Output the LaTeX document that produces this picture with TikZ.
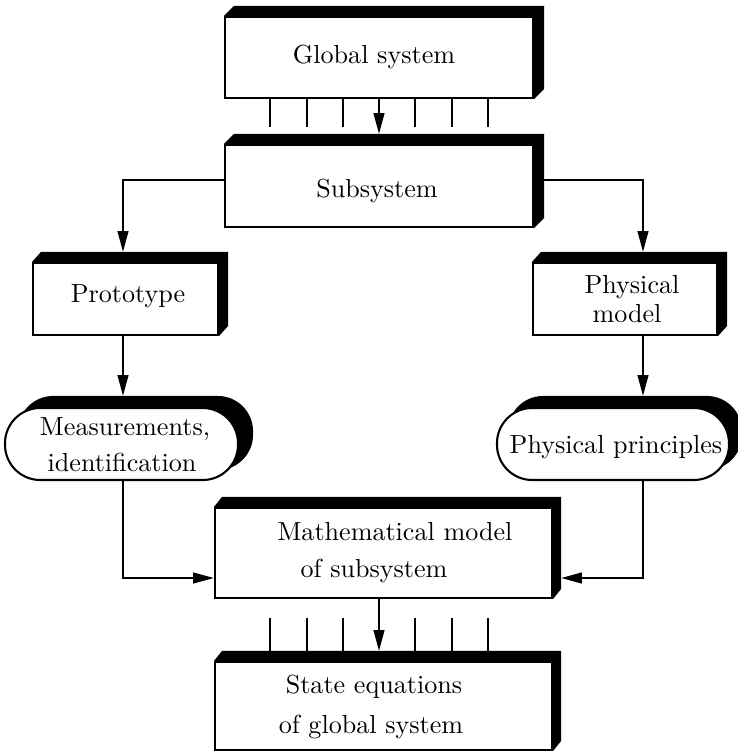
\documentclass[tikz,border=0pt]{standalone}
\usetikzlibrary{arrows.meta,calc,backgrounds}
\newcommand\boxshade[3]{%
  \fill (#1.north west) -- ++(#2,-#3) -| ($(#1.south east)+(#2,-#3)$) -- (#1.south east) -- (#1.north east) -- cycle;}
\newcommand\ovalshade[3]{%
  \begin{scope}[on background layer]
    \fill[rounded corners=13.5pt] ($(#1.north west)+(#2,-#3)$) rectangle ($(#1.south east)+(#2,-#3)$);
  \end{scope}}
\begin{document}
\begin{tikzpicture}[x=0.383pt,y=-0.383pt,
  box/.style 2 args={draw, line width=0.8pt, fill=white, inner sep=0pt,
    minimum width=#1*0.383pt, minimum height=#2*0.383pt},
  oval/.style 2 args={box={#1}{#2}, rounded corners=13.5pt},
  txt/.style={anchor=base, inner sep=0pt},
  conn/.style={line width=0.8pt, -{Triangle[length=8pt,width=4.1pt]}},
  tick/.style={line width=0.45pt}]
\useasboundingbox (0,0) rectangle (738,753);

% boxes
\node[box={308}{81}] (gs) at (379,57.5) {};
\node[box={308}{82}] (sub) at (379,186) {};
\node[box={185}{72}] (proto) at (125.5,299) {};
\node[box={184}{72}] (phys) at (625,299) {};
\node[oval={233}{72}] (meas) at (121.5,444) {};
\node[oval={232}{72}] (pp) at (613,444) {};
\node[box={337}{90}] (math) at (383.5,553) {};
\node[box={337}{88}] (state) at (383.5,706) {};

% shadows
\boxshade{gs}{10}{10}
\boxshade{sub}{10}{10}
\boxshade{proto}{9}{10}
\boxshade{phys}{9}{10}
\boxshade{math}{8}{10}
\boxshade{state}{8}{10}
\ovalshade{meas}{14}{11}
\ovalshade{pp}{12}{11}

% texts
\node[txt] (gs-t) at (374,63) {Global system};
\node[txt] (sub-t) at (377,197) {Subsystem};
\node[txt] (proto-t) at (128,302) {Prototype};
\node[txt] (phys-t1) at (632,293) {Physical};
\node[txt] (phys-t2) at (627,322) {model};
\node[txt] (meas-t1) at (125,435) {Measurements,};
\node[txt] (meas-t2) at (122,471) {identification};
\node[txt] (pp-t) at (616,453) {Physical principles};
\node[txt] (math-t1) at (395,540) {Mathematical model};
\node[txt] (math-t2) at (374,577) {of subsystem};
\node[txt] (state-t1) at (374,693) {State equations};
\node[txt] (state-t2) at (371,733) {of global system};

% connector end points
\coordinate (sub-in) at ($(sub.north)+(0,-10)$);
\coordinate (proto-in) at ($(proto.north)+(-2.5,-10)$);
\coordinate (phys-in) at ($(phys.north)+(18,-10)$);
\coordinate (sub-l) at ($(sub.west)+(0,-6)$);
\coordinate (sub-r) at ($(sub.east)+(0,-6)$);
\coordinate (meas-in) at ($(meas.north)+(1.5,-11)$);
\coordinate (pp-in) at ($(pp.north)+(30,-11)$);
\coordinate (math-l) at ($(math.west)+(0,25)$);
\coordinate (math-r) at ($(math.east)+(8,25)$);
\coordinate (state-in) at ($(state.north)+(-4.5,-10)$);

% connectors
\draw[conn] (gs.south) -- (sub-in);
\draw[conn] (sub-l) -| (proto-in);
\draw[conn] (sub-r) -| (phys-in);
\draw[conn] (proto.south -| meas-in) -- (meas-in);
\draw[conn] (phys.south -| pp-in) -- (pp-in);
\draw[conn] (meas.south -| meas-in) |- (math-l);
\draw[conn] (pp.south -| pp-in) |- (math-r);
\draw[conn] (math.south -| state-in) -- (state-in);

% ticks
\foreach \d in {-109,-72,-36,36,73,109} {
  \draw[tick] ($(gs.south)+(\d,0)$) -- ++(0,28);
  \draw[tick] ($(math.south)+({\d-4.5},19)$) -- ++(0,35);
}
\end{tikzpicture}
\end{document}
